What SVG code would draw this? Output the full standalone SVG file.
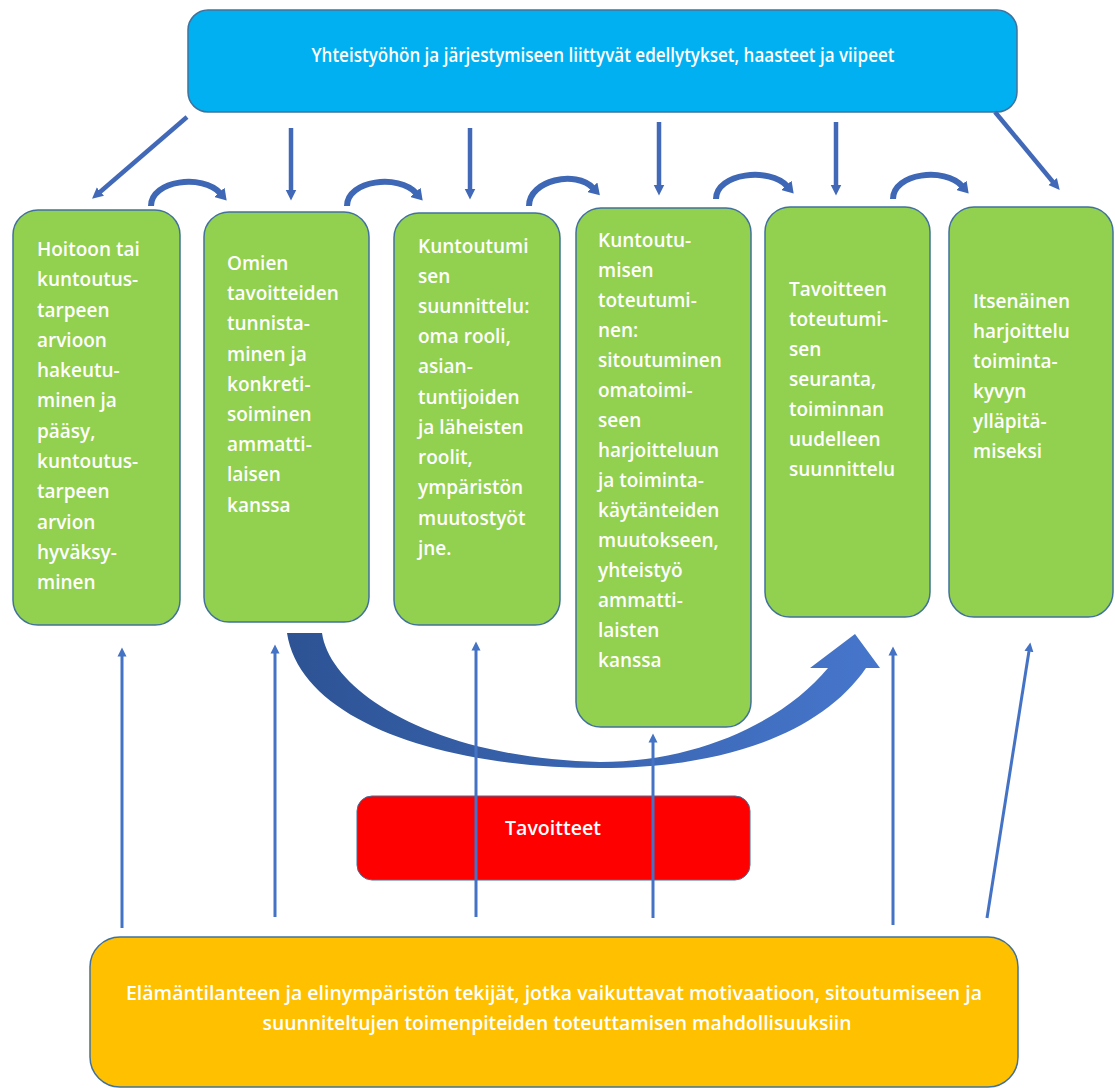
<svg xmlns="http://www.w3.org/2000/svg" width="1115" height="1088" viewBox="0 0 1115 1088">
  <style>
    .step { fill: #92d050; stroke: #41719c; stroke-width: 1.5; }
    .steptxt { font-family: "Open Sans", "DejaVu Sans", sans-serif; font-weight: 600; font-size: 19px; fill: #ffffff; }
    .hdrtxt { font-family: "Open Sans", "DejaVu Sans", sans-serif; font-weight: 600; font-size: 19px; fill: #ffffff; }
    .down { stroke: #4169b8; stroke-width: 4.5; fill: none; }
    .up { stroke: #4472c4; stroke-width: 3; fill: none; }
    .hop { stroke: #3e68b5; stroke-width: 6; fill: none; }
  </style>
  <defs>
    <marker id="headDown" markerUnits="userSpaceOnUse" markerWidth="12" markerHeight="12" viewBox="0 0 12 12" refX="0.5" refY="6" orient="auto">
      <path d="M0,0.5 L11,6 L0,11.5 Z" fill="#4169b8"/>
    </marker>
    <marker id="headUp" markerUnits="userSpaceOnUse" markerWidth="10" markerHeight="10" viewBox="0 0 10 10" refX="0.5" refY="5" orient="auto">
      <path d="M0,0.5 L9,5 L0,9.5 Z" fill="#4472c4"/>
    </marker>
    <marker id="headHop" markerUnits="userSpaceOnUse" markerWidth="14" markerHeight="14" viewBox="0 0 14 14" refX="1" refY="7" orient="auto">
      <path d="M0,0 L11,7 L0,14 Z" fill="#3e68b5"/>
    </marker>
    <linearGradient id="bigArc" x1="0" y1="0" x2="1" y2="0">
      <stop offset="0" stop-color="#2d5394"/>
      <stop offset="1" stop-color="#4676cc"/>
    </linearGradient>
  </defs>

  <!-- header: cooperation and organisation -->
  <g id="node-header">
    <rect x="188" y="10" width="829" height="102" rx="20" fill="#00b0f0" stroke="#41719c" stroke-width="1.5"/>
    <text class="hdrtxt" x="603" y="62" text-anchor="middle" textLength="583" lengthAdjust="spacingAndGlyphs">Yhteistyöhön ja järjestymiseen liittyvät edellytykset, haasteet ja viipeet</text>
  </g>

  <!-- big sweeping arrow, drawn beneath the step boxes -->
  <g id="node-sweep">
    <path d="M287,633 L322,633 C330,690 430,758 600,762 C700,762 785,720 828,668 L810,668 L855,634 L880,668 L866,668 C820,735 720,768 600,768 C440,768 300,720 287,633 Z" fill="url(#bigArc)"/>
  </g>

  <!-- step boxes -->
  <g id="node-step1">
    <rect class="step" x="13" y="210" width="167" height="415" rx="25"/>
    <text class="steptxt">
      <tspan x="37" y="256">Hoitoon tai</tspan>
      <tspan x="37" y="286">kuntoutus-</tspan>
      <tspan x="37" y="317">tarpeen</tspan>
      <tspan x="37" y="347">arvioon</tspan>
      <tspan x="37" y="377">hakeutu-</tspan>
      <tspan x="37" y="407">minen ja</tspan>
      <tspan x="37" y="438">pääsy,</tspan>
      <tspan x="37" y="468">kuntoutus-</tspan>
      <tspan x="37" y="498">tarpeen</tspan>
      <tspan x="37" y="529">arvion</tspan>
      <tspan x="37" y="559">hyväksy-</tspan>
      <tspan x="37" y="589">minen</tspan>
    </text>
  </g>
  <g id="node-step2">
    <rect class="step" x="204" y="212" width="165" height="410" rx="25"/>
    <text class="steptxt">
      <tspan x="227" y="270">Omien</tspan>
      <tspan x="227" y="300">tavoitteiden</tspan>
      <tspan x="227" y="330">tunnista-</tspan>
      <tspan x="227" y="361">minen ja</tspan>
      <tspan x="227" y="391">konkreti-</tspan>
      <tspan x="227" y="421">soiminen</tspan>
      <tspan x="227" y="451">ammatti-</tspan>
      <tspan x="227" y="481">laisen</tspan>
      <tspan x="227" y="512">kanssa</tspan>
    </text>
  </g>
  <g id="node-step3">
    <rect class="step" x="394" y="213" width="166" height="412" rx="25"/>
    <text class="steptxt">
      <tspan x="418" y="253">Kuntoutumi</tspan>
      <tspan x="418" y="283">sen</tspan>
      <tspan x="418" y="313">suunnittelu:</tspan>
      <tspan x="418" y="343">oma rooli,</tspan>
      <tspan x="418" y="373">asian-</tspan>
      <tspan x="418" y="404">tuntijoiden</tspan>
      <tspan x="418" y="434">ja läheisten</tspan>
      <tspan x="418" y="464">roolit,</tspan>
      <tspan x="418" y="494">ympäristön</tspan>
      <tspan x="418" y="525">muutostyöt</tspan>
      <tspan x="418" y="555">jne.</tspan>
    </text>
  </g>
  <g id="node-step4">
    <rect class="step" x="576" y="208" width="175" height="519" rx="25"/>
    <text class="steptxt">
      <tspan x="598" y="247">Kuntoutu-</tspan>
      <tspan x="598" y="277">misen</tspan>
      <tspan x="598" y="307">toteutumi-</tspan>
      <tspan x="598" y="337">nen:</tspan>
      <tspan x="598" y="367">sitoutuminen</tspan>
      <tspan x="598" y="397">omatoimi-</tspan>
      <tspan x="598" y="427">seen</tspan>
      <tspan x="598" y="457">harjoitteluun</tspan>
      <tspan x="598" y="487">ja toiminta-</tspan>
      <tspan x="598" y="517">käytänteiden</tspan>
      <tspan x="598" y="547">muutokseen,</tspan>
      <tspan x="598" y="577">yhteistyö</tspan>
      <tspan x="598" y="607">ammatti-</tspan>
      <tspan x="598" y="637">laisten</tspan>
      <tspan x="598" y="667">kanssa</tspan>
    </text>
  </g>
  <g id="node-step5">
    <rect class="step" x="765" y="207" width="165" height="410" rx="25"/>
    <text class="steptxt">
      <tspan x="789" y="296">Tavoitteen</tspan>
      <tspan x="789" y="326">toteutumi-</tspan>
      <tspan x="789" y="356">sen</tspan>
      <tspan x="789" y="386">seuranta,</tspan>
      <tspan x="789" y="416">toiminnan</tspan>
      <tspan x="789" y="446">uudelleen</tspan>
      <tspan x="789" y="476">suunnittelu</tspan>
    </text>
  </g>
  <g id="node-step6">
    <rect class="step" x="949" y="207" width="164" height="410" rx="25"/>
    <text class="steptxt">
      <tspan x="973" y="308">Itsenäinen</tspan>
      <tspan x="973" y="338">harjoittelu</tspan>
      <tspan x="973" y="368">toiminta-</tspan>
      <tspan x="973" y="398">kyvyn</tspan>
      <tspan x="973" y="428">ylläpitä-</tspan>
      <tspan x="973" y="458">miseksi</tspan>
    </text>
  </g>

  <!-- goals -->
  <g id="node-goals">
    <rect x="357" y="796" width="393" height="84" rx="15" fill="#ff0000" stroke="#41719c" stroke-width="1"/>
    <text class="hdrtxt" x="553" y="835" text-anchor="middle" textLength="96" lengthAdjust="spacingAndGlyphs">Tavoitteet</text>
  </g>

  <!-- life situation and environment -->
  <g id="node-life">
    <rect x="90" y="937" width="928" height="150" rx="30" fill="#ffc000" stroke="#41719c" stroke-width="1.5"/>
    <text class="hdrtxt" x="554" y="1000" text-anchor="middle" textLength="856" lengthAdjust="spacingAndGlyphs">Elämäntilanteen ja elinympäristön tekijät, jotka vaikuttavat motivaatioon, sitoutumiseen ja</text>
    <text class="hdrtxt" x="557" y="1030" text-anchor="middle" textLength="589" lengthAdjust="spacingAndGlyphs">suunniteltujen toimenpiteiden toteuttamisen mahdollisuuksiin</text>
  </g>

  <!-- connectors -->
  <g id="connectors">
    <!-- from the header down to each step -->
    <line class="down" x1="187" y1="117" x2="100" y2="192" marker-end="url(#headDown)"/>
    <line class="down" x1="291" y1="128" x2="291" y2="190" marker-end="url(#headDown)"/>
    <line class="down" x1="470" y1="128" x2="470" y2="189" marker-end="url(#headDown)"/>
    <line class="down" x1="659" y1="122" x2="659" y2="185" marker-end="url(#headDown)"/>
    <line class="down" x1="836" y1="122" x2="836" y2="185" marker-end="url(#headDown)"/>
    <line class="down" x1="995" y1="112" x2="1053" y2="182" marker-end="url(#headDown)"/>

    <!-- hops from step to step -->
    <path class="hop" d="M151,206 C151,180 203,174 220,193" marker-end="url(#headHop)"/>
    <path class="hop" d="M347,206 C347,180 399,174 416,193" marker-end="url(#headHop)"/>
    <path class="hop" d="M529,206 C529,180 576,170 593,188" marker-end="url(#headHop)"/>
    <path class="hop" d="M716,199 C716,173 770,167 787,186" marker-end="url(#headHop)"/>
    <path class="hop" d="M893,199 C893,173 945,167 962,186" marker-end="url(#headHop)"/>

    <!-- from the life situation up to each step -->
    <line class="up" x1="122" y1="928" x2="122" y2="656" marker-end="url(#headUp)"/>
    <line class="up" x1="275" y1="917" x2="275" y2="653" marker-end="url(#headUp)"/>
    <line class="up" x1="476" y1="917" x2="476" y2="650" marker-end="url(#headUp)"/>
    <line class="up" x1="653" y1="918" x2="653" y2="742" marker-end="url(#headUp)"/>
    <line class="up" x1="893" y1="925" x2="893" y2="655" marker-end="url(#headUp)"/>
    <line class="up" x1="987" y1="918" x2="1029" y2="651" marker-end="url(#headUp)"/>
  </g>
</svg>
